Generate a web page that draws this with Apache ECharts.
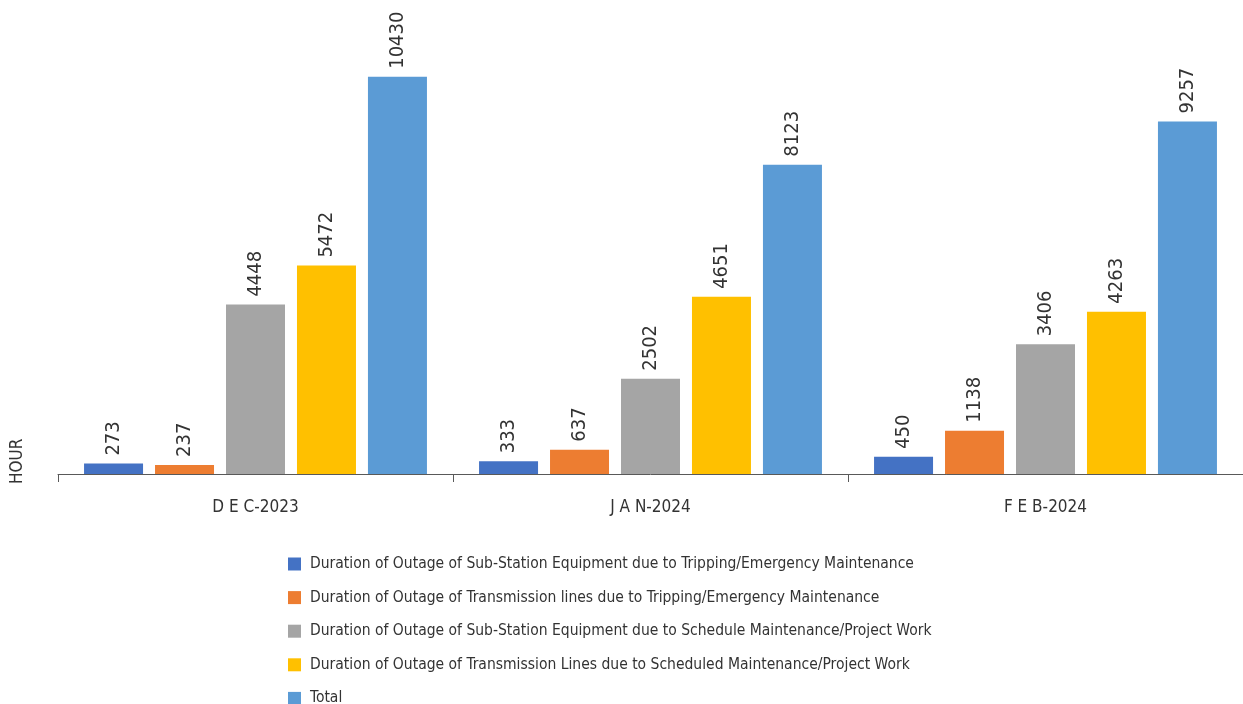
<!DOCTYPE html>
<html>
<head>
<meta charset="utf-8">
<script src="https://cdn.jsdelivr.net/npm/echarts@6/dist/echarts.min.js"></script>
<style>
  html, body { margin: 0; padding: 0; background: #fff; }
  #chart { width: 1243px; height: 704px; }
</style>
</head>
<body>
<div id="chart"></div>
<script>
// Monthly outage durations (hours)
const months = ['D E C-2023', 'J A N-2024', 'F E B-2024'];
const seriesNames = [
  'Duration of Outage of Sub-Station Equipment due to Tripping/Emergency Maintenance',
  'Duration of Outage of Transmission lines due to Tripping/Emergency Maintenance',
  'Duration of Outage of Sub-Station Equipment due to Schedule Maintenance/Project Work',
  'Duration of Outage of Transmission Lines due to Scheduled Maintenance/Project Work',
  'Total'
];
const ssTripping = [273, 333, 450];
const lineTripping = [237, 637, 1138];
const ssScheduled = [4448, 2502, 3406];
const lineScheduled = [5472, 4651, 4263];
const total = [10430, 8123, 9257];

const seriesValues = [ssTripping, lineTripping, ssScheduled, lineScheduled, total];
const colors = ['#4472C4', '#ED7D31', '#A5A5A5', '#FFC000', '#5B9BD5'];
const FONT = "'Liberation Sans Narrow', 'DejaVu Sans Condensed', 'Arial Narrow', sans-serif";

const chart = echarts.init(document.getElementById('chart'));
chart.setOption({
  animation: false,
  textStyle: { fontFamily: FONT },
  grid: { left: 58, right: 0, top: 17, height: 457 },
  legend: {
    orient: 'vertical',
    left: 283,
    top: 550,
    height: 220,
    itemWidth: 13,
    itemHeight: 13,
    itemGap: 15.6,
    icon: 'rect',
    data: seriesNames,
    textStyle: { fontFamily: FONT, fontSize: 15.5, color: '#333', padding: [0, 0, 0, 4], lineHeight: 18 }
  },
  xAxis: {
    type: 'category',
    data: months,
    axisLine: { lineStyle: { color: '#595959', width: 1 } },
    axisTick: { show: true, length: 8, lineStyle: { color: '#595959' } },
    axisLabel: { fontFamily: FONT, fontSize: 17, color: '#333', margin: 25 }
  },
  yAxis: { type: 'value', min: 0, max: 12000, show: false },
  graphic: [{
    type: 'text',
    x: 9, y: 484,
    rotation: Math.PI / 2,
    style: { text: 'HOUR', font: "17px " + FONT, fill: '#333', textAlign: 'left', textVerticalAlign: 'top' }
  }],
  series: seriesNames.map((name, i) => ({
    name,
    type: 'bar',
    data: seriesValues[i],
    barWidth: 59,
    barGap: '20.3%',
    itemStyle: { color: colors[i] },
    label: {
      show: true,
      position: 'top',
      rotate: 90,
      align: 'left',
      verticalAlign: 'middle',
      distance: 8,
      fontFamily: FONT,
      fontSize: 20,
      color: '#333'
    }
  }))
});
</script>
</body>
</html>
